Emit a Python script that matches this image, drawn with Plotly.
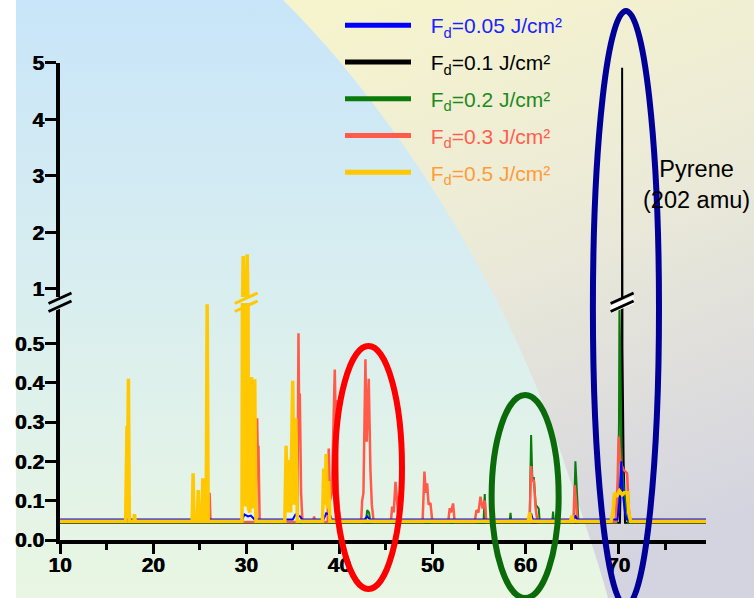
import base64
import plotly.graph_objects as go

# ---------------------------------------------------------------------------
# Spectra: vertex lists (flight-time axis value, signal) for each desorption
# fluence.  Baseline vertices are included where the trace returns to it.
# ---------------------------------------------------------------------------
blue_x = [10.0, 29.6, 29.8, 30.2, 30.5, 30.9, 35.0, 35.3, 35.8, 36.0, 38.3, 38.6,
          39.0, 39.2, 42.7, 43.0, 43.3, 60.4, 60.6, 60.8, 65.2, 65.4, 65.6, 69.9,
          70.1, 70.3, 70.45, 70.7, 70.9, 79.4]
blue_y = [0.052, 0.052, 0.065, 0.060, 0.062, 0.052, 0.052, 0.065, 0.060, 0.052, 0.052, 0.068,
          0.065, 0.052, 0.052, 0.060, 0.052, 0.052, 0.068, 0.052, 0.052, 0.060, 0.052, 0.052,
          0.100, 0.200, 0.120, 0.070, 0.052, 0.052]

black_x = [10.0, 70.15, 70.3, 70.38, 70.39, 70.42, 70.55, 70.7, 79.4]
black_y = [0.044, 0.044, 0.20, 0.49, 4.91, 0.49, 0.20, 0.044, 0.044]

green_x = [10.0, 42.85, 43.0, 43.2, 43.35, 55.5, 55.63, 55.75, 58.3, 58.4, 58.5, 60.45,
           60.61, 60.75, 60.9, 61.1, 61.43, 61.55, 62.87, 62.97, 63.07, 65.2, 65.37, 65.5,
           65.7, 69.8, 69.95, 70.05, 70.1, 70.2, 70.35, 70.6, 70.9, 71.05, 79.4]
green_y = [0.044, 0.044, 0.076, 0.070, 0.044, 0.044, 0.117, 0.044, 0.044, 0.069, 0.044, 0.044,
           0.267, 0.150, 0.160, 0.090, 0.080, 0.044, 0.044, 0.072, 0.044, 0.044, 0.200, 0.120,
           0.044, 0.044, 0.120, 0.300, 0.610, 0.450, 0.200, 0.120, 0.080, 0.044, 0.044]

red_x = [10.0, 25.95, 26.07, 26.17, 31.05, 31.18, 31.26, 31.32, 31.45, 35.5, 35.62, 35.7,
         35.76, 35.9, 36.05, 37.2, 37.3, 37.4, 38.75, 38.87, 39.0, 39.2, 39.52, 39.62,
         39.7, 39.85, 40.0, 40.15, 42.35, 42.46, 42.6, 42.81, 42.95, 43.17, 43.35, 43.5,
         43.7, 45.55, 45.68, 45.85, 46.04, 46.25, 46.4, 48.95, 49.15, 49.3, 49.44, 49.6,
         49.8, 50.0, 51.7, 51.87, 52.0, 52.23, 52.4, 54.55, 54.74, 54.95, 55.17, 55.4,
         55.63, 55.8, 60.45, 60.61, 60.75, 60.9, 61.1, 61.3, 65.15, 65.3, 65.45, 65.6,
         69.7, 69.9, 70.02, 70.2, 70.5, 70.92, 71.1, 71.3, 79.4]
red_y = [0.046, 0.046, 0.120, 0.046, 0.046, 0.310, 0.200, 0.240, 0.046, 0.046, 0.526, 0.300,
         0.373, 0.120, 0.046, 0.046, 0.060, 0.046, 0.046, 0.233, 0.100, 0.120, 0.434, 0.300,
         0.356, 0.120, 0.070, 0.046, 0.046, 0.100, 0.120, 0.460, 0.250, 0.410, 0.178, 0.090,
         0.046, 0.046, 0.085, 0.070, 0.148, 0.076, 0.046, 0.046, 0.174, 0.120, 0.144, 0.090,
         0.094, 0.046, 0.046, 0.081, 0.070, 0.093, 0.046, 0.046, 0.076, 0.070, 0.110, 0.080,
         0.100, 0.046, 0.046, 0.188, 0.150, 0.153, 0.080, 0.046, 0.046, 0.140, 0.100, 0.046,
         0.046, 0.150, 0.263, 0.200, 0.180, 0.170, 0.080, 0.046, 0.046]

yellow_x = [10.0, 17.05, 17.2, 17.27, 17.35, 17.45, 17.95, 18.0, 18.08, 24.2, 24.3, 24.4,
            24.75, 24.85, 24.95, 25.24, 25.34, 25.44, 25.7, 25.81, 25.92, 29.55, 29.68, 29.82,
            29.98, 30.11, 30.25, 30.4, 30.57, 30.72, 30.92, 31.05, 34.15, 34.29, 34.42, 34.62,
            34.78, 35.0, 35.15, 35.33, 35.5, 38.2, 38.33, 38.45, 38.59, 38.72, 38.87, 39.0,
            60.3, 60.46, 60.6, 64.85, 65.0, 65.15, 69.2, 69.4, 69.56, 69.8, 70.1, 70.4,
            70.6, 70.96, 71.1, 71.3, 79.4]
yellow_y = [0.048, 0.048, 0.290, 0.200, 0.410, 0.048, 0.048, 0.066, 0.048, 0.048, 0.170, 0.048,
            0.048, 0.127, 0.048, 0.048, 0.157, 0.048, 0.048, 0.600, 0.048, 0.048, 1.580, 0.090,
            0.090, 1.610, 0.080, 0.070, 0.415, 0.080, 0.409, 0.048, 0.048, 0.240, 0.070, 0.204,
            0.070, 0.405, 0.090, 0.310, 0.048, 0.048, 0.182, 0.090, 0.219, 0.080, 0.150, 0.048,
            0.048, 0.070, 0.048, 0.048, 0.062, 0.048, 0.048, 0.070, 0.120, 0.110, 0.125, 0.115,
            0.120, 0.120, 0.070, 0.048, 0.048]

legend_names = ["0.05", "0.1", "0.2", "0.3", "0.5"]
line_colors = ["#0000ff", "#000000", "#0a7a0a", "#ff5a4a", "#ffc800"]
text_colors = ["#1a22ff", "#000000", "#1d8a1d", "#ff5f50", "#ff9c3a"]
line_widths = [2.0, 2.0, 2.0, 2.5, 3.5]
series = [(blue_x, blue_y), (black_x, black_y), (green_x, green_y),
          (red_x, red_y), (yellow_x, yellow_y)]

x_ticks = [10, 20, 30, 40, 50, 60, 70]
x_minor = [15, 25, 35, 45, 55, 65, 75]
low_ticks = [0.0, 0.1, 0.2, 0.3, 0.4, 0.5]
high_ticks = [1, 2, 3, 4, 5]

# ---------------------------------------------------------------------------
# Geometry of the page
# ---------------------------------------------------------------------------
W, H = 754, 598
ML, MR, MT, MB = 60, 48, 0, 58
PW, PH = W - ML - MR, H - MT - MB
X_RANGE = [10, 79.4]
LOW_TOP_PX, HIGH_BOT_PX, HIGH_TOP_PX = 303, 297, 62.7
LOW_RANGE = [0, (540 - LOW_TOP_PX) / 393.0]
HIGH_RANGE = [1 - (HIGH_BOT_PX - 288.7) / 56.5, 5]


def px(xp):
    return (xp - ML) / PW


def py(yp):
    return (PH + MT - yp) / PH


def xdata(m):
    return (m - X_RANGE[0]) / (X_RANGE[1] - X_RANGE[0])


# ---------------------------------------------------------------------------
# Backdrop: sky-blue panel on the left, warm-grey panel on the right
# ---------------------------------------------------------------------------
svg = f"""<svg xmlns="http://www.w3.org/2000/svg" width="{W}" height="{H}" viewBox="0 0 {W} {H}" preserveAspectRatio="none">
<defs>
<linearGradient id="gl" x1="0" y1="0" x2="0" y2="1">
<stop offset="0" stop-color="#c8e5f9"/><stop offset="0.5" stop-color="#d9eeef"/><stop offset="1" stop-color="#e9f6e2"/>
</linearGradient>
<linearGradient id="gr" x1="0.2" y1="0" x2="0.5" y2="1">
<stop offset="0" stop-color="#f6f4cd"/><stop offset="0.45" stop-color="#ebead8"/><stop offset="1" stop-color="#d4d4e0"/>
</linearGradient>
</defs>
<rect x="16" y="0" width="{W - 16}" height="{H}" fill="url(#gl)"/>
<path d="M283,0 C380,95 500,270 560,450 C575,495 595,550 608,598 L{W},{H} L{W},0 Z" fill="url(#gr)"/>
</svg>"""
bg_uri = "data:image/svg+xml;base64," + base64.b64encode(svg.encode()).decode()

fig = go.Figure()

# draw order: black, green, red, blue, yellow on top
draw_order = [1, 2, 3, 0, 4]
for i in draw_order:
    xs, ys = series[i]
    for xa, ya in (("x", "y"), ("x2", "y2")):
        fig.add_trace(go.Scatter(
            x=xs, y=ys, mode="lines", xaxis=xa, yaxis=ya,
            line=dict(color=line_colors[i], width=line_widths[i]),
            legendgroup=f"g{i}", showlegend=False, hoverinfo="skip"))

# legend entries with thick line samples
GAP = "\u2002\u2009"
for i in range(5):
    fig.add_trace(go.Scatter(
        x=[None], y=[None], mode="lines",
        line=dict(color=line_colors[i], width=5),
        legendgroup=f"g{i}", legendrank=i + 1,
        name=f'{GAP}<span style="color:{text_colors[i]}">F<sub>d</sub>={legend_names[i]} J/cm²</span>'))

tick_font = dict(family="Liberation Sans", size=21, color="black", weight="bold",
                 shadow="0.6px 0 0 #000")
axis_common = dict(showline=True, linecolor="black", linewidth=3.5, ticks="outside",
                   tickcolor="black", tickwidth=3, showgrid=False, zeroline=False,
                   tickfont=tick_font, fixedrange=True, automargin=False)

fig.update_layout(
    width=W, height=H,
    margin=dict(l=ML, r=MR, t=MT, b=MB, pad=0, autoexpand=False),
    paper_bgcolor="white", plot_bgcolor="rgba(0,0,0,0)",
    xaxis=dict(domain=[0, 1], range=X_RANGE, anchor="y", tickvals=x_ticks,
               ticklen=10, ticklabelstandoff=-7,
               minor=dict(tickvals=x_minor, ticklen=6, tickwidth=3, ticks="outside",
                          tickcolor="black"),
               **axis_common),
    yaxis=dict(domain=[0, py(LOW_TOP_PX)], range=LOW_RANGE, anchor="x",
               tickvals=low_ticks, ticktext=[f"{v:.1f}" for v in low_ticks],
               ticklen=11, ticklabelstandoff=-3, **axis_common),
    xaxis2=dict(domain=[0, 1], range=X_RANGE, anchor="y2", matches="x", visible=False),
    yaxis2=dict(domain=[py(HIGH_BOT_PX), py(HIGH_TOP_PX)], range=HIGH_RANGE, anchor="x2",
                tickvals=high_ticks, ticklen=11, ticklabelstandoff=-3, **axis_common),
    legend=dict(x=px(340), y=py(5), xanchor="left", yanchor="top",
                bgcolor="rgba(0,0,0,0)", borderwidth=0, itemwidth=66,
                tracegroupgap=6.5,
                font=dict(family="Liberation Sans", size=21)),
    showlegend=True,
    images=[dict(source=bg_uri, xref="paper", yref="paper",
                 x=px(0), y=py(0), sizex=W / PW, sizey=H / PH,
                 xanchor="left", yanchor="top", sizing="stretch", layer="below")],
)

shapes = []
# highlight ovals around the cluster regions (x given in axis units)
ovals = [(43.14, 346, 589, 3.6, "#ff0000"),
         (59.97, 395, 598, 3.6, "#0b6b0b"),
         (70.8, 11, 606, 3.55, "#000099")]
for xc, ytop, ybot, half, col in ovals:
    shapes.append(dict(type="circle", xref="paper", yref="paper",
                       x0=xdata(xc - half), x1=xdata(xc + half),
                       y0=py(ybot), y1=py(ytop),
                       line=dict(color=col, width=6), fillcolor="rgba(0,0,0,0)"))


# axis-break marks
def slash_pair(xc_px, color, fill=None, half=11.5):
    out = []
    if fill:
        out.append(dict(type="path", xref="paper", yref="paper",
                        path=(f"M{px(xc_px - half)},{py(305.5)} L{px(xc_px + half)},{py(296)} "
                              f"L{px(xc_px + half)},{py(304)} L{px(xc_px - half)},{py(313.5)} Z"),
                        fillcolor=fill, line=dict(width=0)))
    for y0, y1 in ((303.5, 293), (311.5, 301)):
        out.append(dict(type="line", xref="paper", yref="paper",
                        x0=px(xc_px - half), x1=px(xc_px + half),
                        y0=py(y0), y1=py(y1), line=dict(color=color, width=3)))
    return out


shapes += slash_pair(ML, "black", fill="#d6edf0")
big_yellow = [m for m, v in zip(yellow_x, yellow_y) if v > 1]
yc = ML + xdata(sum(big_yellow) / len(big_yellow)) * PW
shapes += slash_pair(yc + 1, "#ffc800")
black_peak = black_x[black_y.index(max(black_y))]
shapes += slash_pair(ML + xdata(black_peak) * PW, "black", fill="white")
fig.update_layout(shapes=shapes)

fig.add_annotation(x=px(696), y=py(185), xref="paper", yref="paper",
                   xanchor="center", yanchor="middle",
                   text="Pyrene<br>(202 amu)", showarrow=False,
                   font=dict(family="Liberation Sans", size=23.5, color="black"))

fig.write_html("out.html")
